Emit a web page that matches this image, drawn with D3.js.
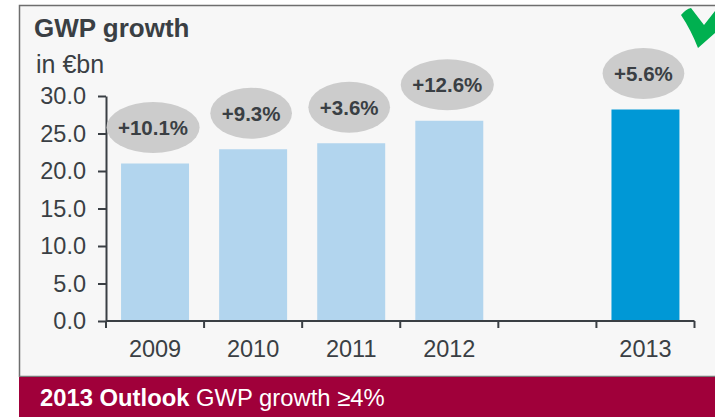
<!DOCTYPE html>
<html>
<head>
<meta charset="utf-8">
<script src="https://cdn.jsdelivr.net/npm/d3@7"></script>
<style>
  html, body { margin: 0; padding: 0; background: #ffffff; }
  svg { display: block; }
  text { font-family: "Liberation Sans", Arial, Helvetica, sans-serif; }
</style>
</head>
<body>
<svg id="chart" width="715" height="417"></svg>
<script>
// Gross written premiums per year, in € billion; "" is an empty spacer slot
const categories = ["2009", "2010", "2011", "2012", "", "2013"];
const gwpValues = [21.0, 22.9, 23.7, 26.7, null, 28.2];
const growthLabels = ["+10.1%", "+9.3%", "+3.6%", "+12.6%", null, "+5.6%"];
const yTickValues = [0, 5, 10, 15, 20, 25, 30];
const titleText = "GWP growth";
const unitText = "in €bn";
const outlookLead = "2013 Outlook";
const outlookText = " GWP growth ≥4%";

const INK = "#3a3f44";
const LIGHT_BAR = "#b2d5ee";
const DARK_BAR = "#0098d6";

const svg = d3.select("#chart");

// Panel background and frame
svg.append("rect").attr("x", 19).attr("y", 5).attr("width", 700).attr("height", 372)
  .attr("fill", "#f7f7f7");
svg.append("path")
  .attr("d", "M716,5.5 H19.5 V377")
  .attr("fill", "none").attr("stroke", "#6e6e6e").attr("stroke-width", 1.5);
svg.append("line").attr("x1", 19).attr("x2", 715).attr("y1", 376.5).attr("y2", 376.5)
  .attr("stroke", "#7a7a7a").attr("stroke-width", 1.5);

// Outlook banner
svg.append("rect").attr("x", 19).attr("y", 377).attr("width", 700).attr("height", 40)
  .attr("fill", "#a0003a");
const banner = svg.append("text").attr("x", 40).attr("y", 406)
  .attr("fill", "#ffffff").attr("font-size", 23.8);
banner.append("tspan").attr("font-weight", "bold").text(outlookLead);
banner.append("tspan").text(outlookText);

// Title and unit
svg.append("text").attr("x", 34).attr("y", 37).attr("fill", INK)
  .attr("font-size", 26).attr("font-weight", "bold").text(titleText);
svg.append("text").attr("x", 36).attr("y", 73).attr("fill", INK)
  .attr("font-size", 25).text(unitText);

// Green check mark in the corner
svg.append("path")
  .attr("d", "M681,15 Q686,9 691,8 L704,25 L715,11 L715,33 L698,48 Q691,30 681,15 Z")
  .attr("fill", "#00b050");

// Scales
const x = d3.scaleBand().domain(categories).range([106, 694.5]).padding(0);
const y = d3.scaleLinear().domain([0, 30]).range([321, 96]);
const barW = x.bandwidth() * 0.693;

// Y axis
const yAxis = svg.append("g").attr("transform", "translate(106,0)")
  .call(d3.axisLeft(y).tickValues(yTickValues).tickFormat(d3.format(".1f"))
    .tickSize(8).tickSizeOuter(0).tickPadding(12));
yAxis.select(".domain").attr("stroke", INK).attr("stroke-width", 2);
yAxis.selectAll(".tick line").attr("stroke", INK).attr("stroke-width", 2);
yAxis.selectAll(".tick text").attr("fill", INK).attr("font-size", 23.5)
  .attr("font-family", "Liberation Sans, Arial, sans-serif");

// Bars
const data = categories.map((c, i) => ({ cat: c, value: gwpValues[i], label: growthLabels[i], i }))
  .filter(d => d.value != null);

svg.append("g").selectAll("rect").data(data).join("rect")
  .attr("x", d => x(d.cat) + (x.bandwidth() - barW) / 2)
  .attr("width", barW)
  .attr("y", d => y(d.value))
  .attr("height", d => y(0) - y(d.value))
  .attr("fill", d => d.cat === "2013" ? DARK_BAR : LIGHT_BAR);

// X axis: category labels centred in each slot
const xAxis = svg.append("g").attr("transform", "translate(0,321)")
  .call(d3.axisBottom(x).tickSize(0).tickPadding(19).tickFormat(d => d));
xAxis.select(".domain").remove();
xAxis.selectAll(".tick text").attr("fill", INK).attr("font-size", 23.5)
  .attr("font-family", "Liberation Sans, Arial, sans-serif");

// X axis baseline with ticks at slot boundaries
const bounds = categories.map(c => x(c)).concat([x.range()[1]]);
svg.append("line").attr("x1", 106).attr("x2", x.range()[1]).attr("y1", y(0)).attr("y2", y(0))
  .attr("stroke", INK).attr("stroke-width", 2);
svg.append("g").selectAll("line").data(bounds).join("line")
  .attr("x1", d => d).attr("x2", d => d)
  .attr("y1", y(0)).attr("y2", y(0) + 7)
  .attr("stroke", INK).attr("stroke-width", 2);

// Growth bubbles above the bars
const bubbles = svg.append("g").selectAll("g").data(data).join("g")
  .attr("transform", d => `translate(${x(d.cat) + x.bandwidth() / 2 - 2},${y(d.value) - 36})`);
bubbles.append("ellipse").attr("cx", 0).attr("cy", 0)
  .attr("ry", 25.5).attr("fill", "#cccccc");
const bubbleText = bubbles.append("text")
  .attr("text-anchor", "middle").attr("dy", "0.36em")
  .attr("font-size", 20.5).attr("font-weight", "bold").attr("fill", INK)
  .text(d => d.label);
bubbleText.each(function () {
  const w = this.getComputedTextLength();
  d3.select(this.parentNode).select("ellipse").attr("rx", w / 2 + 11.5);
});
</script>
</body>
</html>
